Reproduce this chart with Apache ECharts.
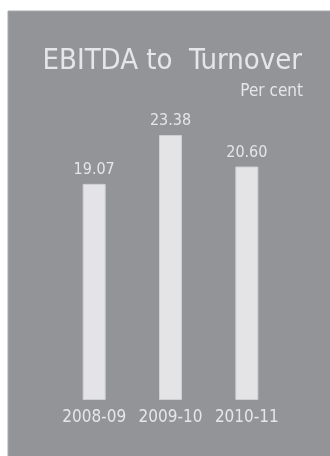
<!DOCTYPE html>
<html>
<head>
<meta charset="utf-8">
<script src="https://cdn.jsdelivr.net/npm/echarts@6/dist/echarts.min.js"></script>
<style>
  html, body { margin: 0; padding: 0; background: #ffffff; }
  #chart { width: 330px; height: 456px; }
</style>
</head>
<body>
<div id="chart"></div>
<script>
// EBITDA as a share of turnover, per financial year
const years = ['2008-09', '2009-10', '2010-11'];
const ebitdaToTurnover = [19.07, 23.38, 20.60];
const chartTitle = 'EBITDA to  Turnover';
const unitNote = 'Per cent';

const panelGrey = '#939497';
const barFill = '#e4e4e6';
const textLight = '#e6e6e8';
const mainFont = '"DejaVu Sans Condensed", "DejaVu Sans", sans-serif';

const chart = echarts.init(document.getElementById('chart'), null, { renderer: 'canvas' });

chart.setOption({
  backgroundColor: '#ffffff',
  animation: false,
  graphic: [
    {
      type: 'rect',
      z: -10,
      shape: { x: 8, y: 11, width: 330, height: 460 },
      style: { fill: panelGrey, stroke: '#a9aaad', lineWidth: 1 }
    },
    {
      type: 'text',
      x: 302, y: 61,
      style: {
        text: chartTitle,
        font: '29px ' + mainFont,
        fill: textLight,
        align: 'right',
        verticalAlign: 'middle'
      }
    },
    {
      type: 'text',
      x: 303, y: 92,
      style: {
        text: unitNote,
        font: '17px ' + mainFont,
        fill: textLight,
        align: 'right',
        verticalAlign: 'middle'
      }
    }
  ],
  grid: { left: 56, width: 229, top: 60, bottom: 56, containLabel: false },
  xAxis: {
    type: 'category',
    data: years,
    axisLine: { show: false },
    axisTick: { show: false },
    axisLabel: {
      interval: 0,
      hideOverlap: false,
      margin: 9,
      color: textLight,
      fontFamily: '"Liberation Sans Narrow", "DejaVu Sans Condensed", sans-serif',
      fontSize: 17
    }
  },
  yAxis: {
    type: 'value',
    min: 0,
    max: 30,
    show: false,
    splitLine: { show: false }
  },
  series: [{
    type: 'bar',
    data: ebitdaToTurnover,
    barWidth: 23,
    itemStyle: { color: barFill, borderColor: '#cfd0d2', borderWidth: 1 },
    label: {
      show: true,
      position: 'top',
      distance: 6,
      color: textLight,
      fontFamily: mainFont,
      fontSize: 16,
      formatter: p => p.value.toFixed(2)
    }
  }]
});
</script>
</body>
</html>
